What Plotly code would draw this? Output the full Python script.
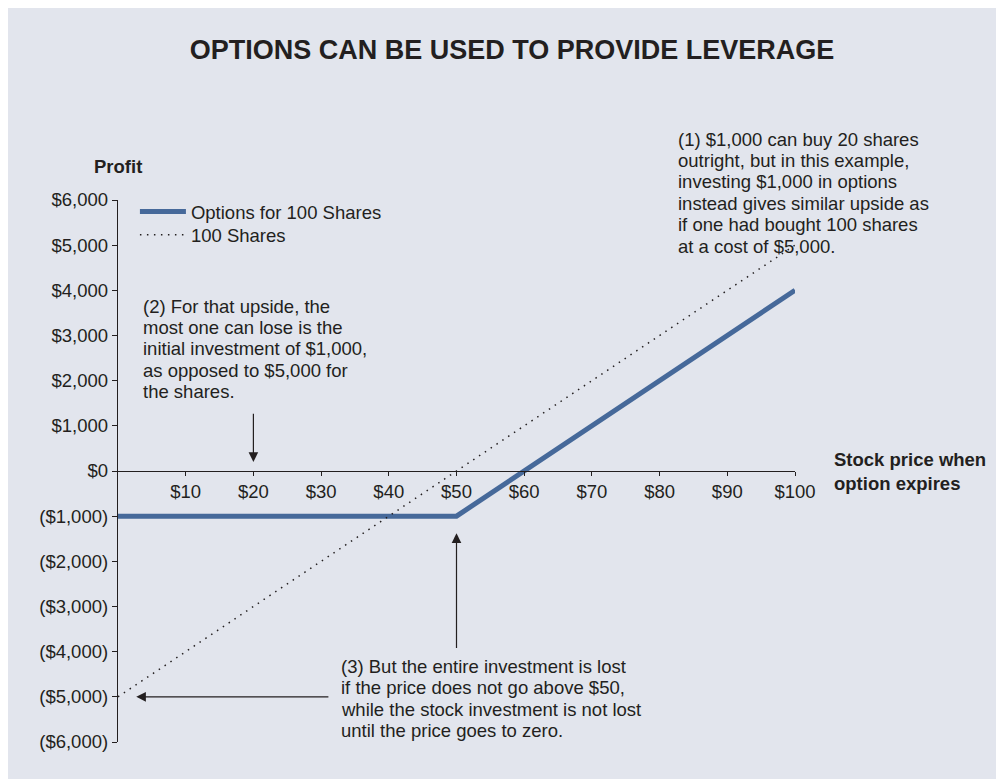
import plotly.graph_objects as go

# data
option_price = [0, 50, 100]
option_profit = [-1000, -1000, 4000]
share_price = [0, 100]
share_profit = [-5000, 5000]

x_ticks = [10, 20, 30, 40, 50, 60, 70, 80, 90, 100]
x_labels = ["$10", "$20", "$30", "$40", "$50", "$60", "$70", "$80", "$90", "$100"]
y_ticks = [6000, 5000, 4000, 3000, 2000, 1000, 0, -1000, -2000, -3000, -4000, -5000, -6000]
y_labels = ["$6,000", "$5,000", "$4,000", "$3,000", "$2,000", "$1,000", "$0",
            "($1,000)", "($2,000)", "($3,000)", "($4,000)", "($5,000)", "($6,000)"]

note1 = ["(1) $1,000 can buy 20 shares", "outright, but in this example,",
         "investing $1,000 in options", "instead gives similar upside as",
         "if one had bought 100 shares", "at a cost of $5,000."]
note2 = ["(2) For that upside, the", "most one can lose is the",
         "initial investment of $1,000,", "as opposed to $5,000 for", "the shares."]
note3 = ["(3) But the entire investment is lost", "if the price does not go above $50,",
         "while the stock investment is not lost", "until the price goes to zero."]

FONT = "Liberation Sans, Arial, sans-serif"
INK = "#231f20"
BG = "#e2e5ed"
BLUE = "#46699a"
FS = 18.5

fig = go.Figure()
fig.add_trace(go.Scatter(x=option_price, y=option_profit, mode="lines",
                         name="Options for 100 Shares", legend="legend",
                         line=dict(color=BLUE, width=5)))
fig.add_trace(go.Scatter(x=share_price, y=share_profit, mode="lines",
                         name="100 Shares", legend="legend2",
                         line=dict(color=INK, width=1.5, dash="1.5px,5.5px")))

fig.update_xaxes(range=[0, 100], anchor="free", position=0.5,
                 showgrid=False, zeroline=False,
                 showline=True, linecolor=INK, linewidth=1.3,
                 ticks="outside", ticklen=4, tickcolor=INK, tickwidth=1.3,
                 tickvals=x_ticks, ticktext=x_labels,
                 tickfont=dict(size=FS, color=INK, family=FONT))
fig.update_yaxes(range=[-6000, 6000],
                 showgrid=False, zeroline=False,
                 showline=True, linecolor=INK, linewidth=1.3,
                 ticks="outside", ticklen=5, tickcolor=INK, tickwidth=1.3,
                 tickvals=y_ticks, ticktext=y_labels,
                 tickfont=dict(size=FS, color=INK, family=FONT))

annots = []
# multi-line notes, one annotation per line so the spacing matches
for lines, ref, x0, y0 in [(note1, "paper", 0.8242, 1.1125),
                           (note2, "data", 3.4, 3650),
                           (note3, "data", 32.7, -4330)]:
    xr, yr = ("paper", "paper") if ref == "paper" else ("x", "y")
    for i, t in enumerate(lines):
        annots.append(dict(x=x0, y=y0, xref=xr, yref=yr, text=t, showarrow=False,
                           xanchor="left", yanchor="middle", yshift=-21.4 * i,
                           font=dict(size=FS, color=INK, family=FONT)))

# arrows
for tip_x, tip_y, tail_x, tail_y in [(20, 200, 20, 1300), (50, -1380, 50, -3950),
                                     (2.7, -5000, 31.3, -5000)]:
    annots.append(dict(x=tip_x, y=tip_y, ax=tail_x, ay=tail_y, xref="x", yref="y",
                       axref="x", ayref="y", text="", showarrow=True,
                       arrowhead=2, arrowsize=1.6, arrowwidth=1.2, arrowcolor=INK))

# axis titles
annots.append(dict(x=0, y=1.0627, xref="paper", yref="paper", text="<b>Profit</b>",
                   showarrow=False, xanchor="center", yanchor="middle",
                   font=dict(size=FS, color=INK, family=FONT)))
annots.append(dict(x=1.0547, y=0.5, xref="paper", yref="paper",
                   text="<b>Stock price when<br>option expires</b>",
                   showarrow=False, xanchor="left", yanchor="middle", align="left",
                   font=dict(size=FS, color=INK, family=FONT)))

legend_style = dict(xanchor="left", yanchor="top", bgcolor="rgba(0,0,0,0)", itemwidth=46,
                    font=dict(size=FS, color=INK, family=FONT))

fig.update_layout(
    width=1004, height=779,
    margin=dict(l=110, r=217, t=192, b=45, autoexpand=False),
    paper_bgcolor=BG, plot_bgcolor=BG,
    title=dict(text="<b>OPTIONS CAN BE USED TO PROVIDE LEVERAGE</b>",
               x=0.502, xanchor="center", y=0.947, yanchor="middle",
               font=dict(size=27, color=INK, family=FONT)),
    showlegend=True,
    legend=dict(x=0.025, y=1.013, **legend_style),
    legend2=dict(x=0.025, y=0.970, **legend_style),
    annotations=annots,
)

fig.write_html("out.html")
